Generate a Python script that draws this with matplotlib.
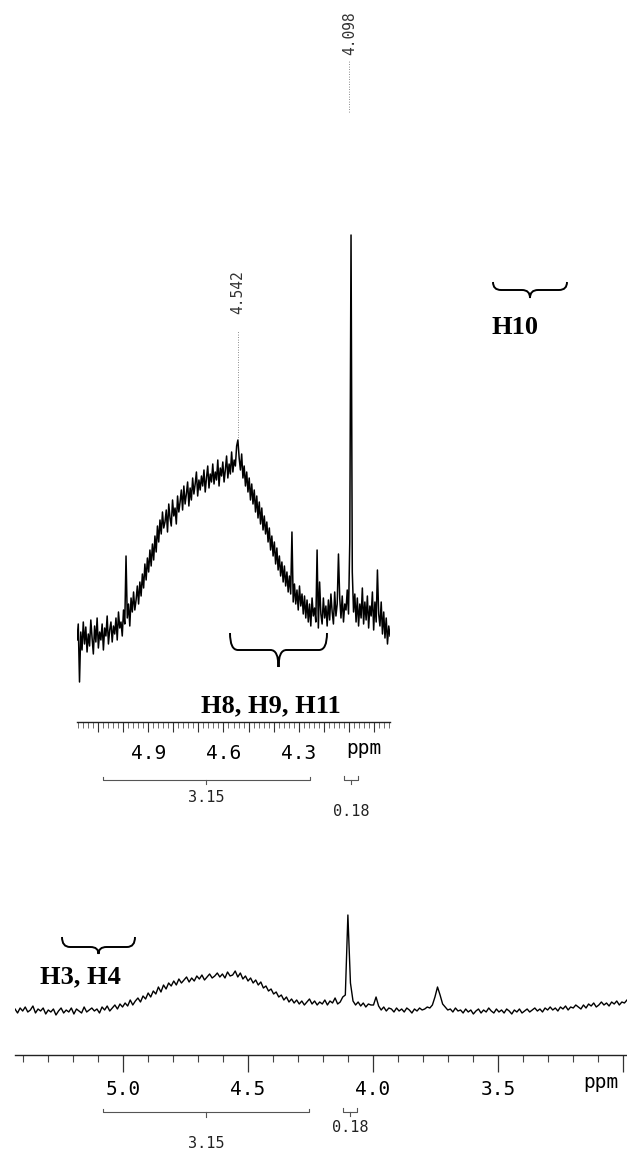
import matplotlib
matplotlib.use('Agg')
import matplotlib.pyplot as plt
import numpy as np
from matplotlib.path import Path
from matplotlib.patches import PathPatch
from matplotlib.ticker import MultipleLocator

# rozmiar obrazka w pikselach
W, H = 627, 1154

# --- dane: widmo rozszerzone (gora) ---
top_ppm_start, top_ppm_end = 5.184, 3.936
top_intensity = [
    82, 98, 40, 90, 72, 100, 78, 95, 70, 88,
    76, 102, 84, 68, 96, 80, 104, 74, 90, 82,
    98, 72, 94, 86, 106, 78, 92, 100, 80, 96,
    88, 104, 82, 110, 94, 100, 86, 112, 98, 166,
    104, 118, 96, 124, 110, 130, 112, 122, 136, 118,
    140, 126, 148, 134, 158, 142, 164, 150, 172, 156,
    178, 162, 186, 170, 196, 180, 202, 188, 210, 194,
    200, 212, 190, 218, 204, 196, 222, 206, 214, 198,
    226, 210, 220, 232, 212, 236, 218, 228, 240, 216,
    234, 222, 244, 228, 238, 250, 226, 242, 232, 246,
    236, 252, 230, 244, 256, 234, 248, 240, 258, 238,
    250, 242, 262, 236, 254, 246, 260, 240, 252, 266,
    244, 258, 248, 270, 250, 262, 256, 276, 282, 264,
    252, 268, 244, 256, 236, 250, 230, 244, 222, 238,
    218, 232, 210, 226, 204, 220, 198, 214, 192, 206,
    188, 200, 180, 194, 172, 186, 166, 180, 158, 174,
    152, 166, 146, 160, 140, 156, 136, 150, 130, 146,
    128, 190, 120, 138, 118, 132, 112, 136, 116, 128,
    108, 126, 104, 122, 100, 118, 96, 124, 106, 114,
    100, 172, 94, 140, 108, 98, 124, 104, 116, 96,
    122, 102, 128, 110, 98, 130, 106, 118, 168, 124,
    104, 126, 100, 118, 112, 132, 108, 180, 487, 150,
    110, 128, 100, 124, 96, 118, 104, 134, 98, 120,
    102, 126, 94, 116, 106, 130, 92, 120, 100, 152,
    108, 96, 120, 88, 110, 84, 104, 78, 96, 86,
]
top_peaks = [4.542, 4.098]
top_tick_labels = [4.9, 4.6, 4.3]

# --- dane: widmo pelne (dol) ---
bottom_ppm_start, bottom_ppm_end = 5.432, 2.984
bottom_intensity = [
    46, 42, 47, 44, 48, 43, 45, 49, 42, 46,
    44, 47, 41, 45, 43, 46, 40, 44, 47, 42,
    45, 43, 47, 41, 46, 44, 42, 48, 43, 45,
    47, 44, 46, 42, 48, 45, 49, 44, 47, 50,
    46, 51, 48, 52, 49, 55, 50, 54, 57, 53,
    59, 56, 62, 58, 64, 61, 68, 63, 70, 66,
    72, 69, 74, 70, 76, 72, 75, 78, 73, 77,
    74, 79, 76, 80, 75, 78, 81, 77, 79, 82,
    78, 81, 77, 83, 79, 80, 84, 78, 82, 76,
    79, 74, 77, 72, 75, 70, 73, 67, 69, 64,
    66, 61, 63, 58, 60, 55, 58, 53, 56, 52,
    55, 51, 54, 50, 53, 56, 51, 54, 50, 53,
    51, 55, 50, 54, 52, 57, 51, 53, 58, 60,
    140, 72, 54, 50, 53, 49, 52, 48, 51, 50,
    50, 58, 49, 45, 48, 44, 47, 46, 43, 47,
    44, 46, 43, 47, 45, 42, 46, 44, 47, 45,
    46, 48, 47, 50, 58, 68, 60, 51, 48, 45,
    46, 43, 47, 44, 45, 42, 46, 43, 45, 41,
    44, 46, 42, 45, 43, 47, 44, 42, 46, 43,
    45, 42, 46, 44, 41, 45, 43, 46, 42, 44,
    46, 43, 45, 47, 44, 46, 43, 47, 45, 48,
    45, 47, 44, 48, 46, 49, 45, 48, 47, 50,
    48, 46, 50, 47, 51, 49, 52, 48, 50, 53,
    50, 52, 49, 53, 51, 54, 50, 53, 52, 55,
]
bottom_tick_labels = [5.0, 4.5, 4.0, 3.5]

# calki
integral_ranges = [(5.08, 4.256), (4.12, 4.064)]
integral_values = ['3.15', '0.18']

MONO = 'DejaVu Sans Mono'
SERIF = 'Liberation Serif'


def px(x, y):
    # piksele obrazka -> wspolrzedne figury
    return x / W, 1 - y / H


def brace(fig, x0, x1, ytop, ymid, ycusp, r=8):
    xc = (x0 + x1) / 2
    pts = [(x0, ytop), (x0, ymid), (x0 + r, ymid), (xc - r, ymid), (xc, ymid), (xc, ycusp),
           (xc, ymid), (xc + r, ymid), (x1 - r, ymid), (x1, ymid), (x1, ytop)]
    codes = [Path.MOVETO, Path.CURVE3, Path.CURVE3, Path.LINETO, Path.CURVE3, Path.CURVE3,
             Path.CURVE3, Path.CURVE3, Path.LINETO, Path.CURVE3, Path.CURVE3]
    patch = PathPatch(Path([px(*p) for p in pts], codes), transform=fig.transFigure,
                      fill=False, lw=1.4, color='black')
    fig.add_artist(patch)


def integral(ax, lo, hi, y, end_h, mid_h, label, label_y):
    ax.plot([lo, lo, hi, hi], [y + end_h, y, y, y + end_h], color='#555', lw=0.8, clip_on=False)
    mid = (lo + hi) / 2
    ax.plot([mid, mid], [y, y - mid_h], color='#555', lw=0.8, clip_on=False)
    ax.text(mid, label_y, label, ha='center', va='center', fontsize=11,
            family=MONO, color='#222', clip_on=False)


def style_axis(ax):
    for s in ['top', 'left', 'right']:
        ax.spines[s].set_visible(False)
    ax.spines['bottom'].set_color('#222')
    ax.spines['bottom'].set_linewidth(1.0)
    ax.yaxis.set_visible(False)
    ax.patch.set_alpha(0)


fig = plt.figure(figsize=(W / 100, H / 100), dpi=100)

# ---------------- gora ----------------
ax1 = fig.add_axes([77 / W, 1 - 722 / H, 313 / W, 722 / H])
top_ppm = np.linspace(top_ppm_start, top_ppm_end, len(top_intensity))
ax1.plot(top_ppm, top_intensity, color='black', lw=1.1)
ax1.set_xlim(top_ppm_start, top_ppm_end)
ax1.set_ylim(0, 722)
style_axis(ax1)

major = np.round(np.arange(4.0, 5.15, 0.1), 2)
ax1.set_xticks(major)
ax1.set_xticklabels([f'{t:.1f}' if np.any(np.isclose(t, top_tick_labels)) else '' for t in major])
ax1.xaxis.set_minor_locator(MultipleLocator(0.02))
ax1.tick_params(which='major', length=7, width=0.8, color='#333', pad=8.5,
                labelsize=14, labelfontfamily=MONO)
ax1.tick_params(which='minor', length=4, width=0.6, color='#555')
ax1.text(4.04, -26, 'ppm', ha='center', va='center', fontsize=14, family=MONO, clip_on=False)

# etykiety pikow
ax1.text(top_peaks[0], 430, f'{top_peaks[0]:.3f}', rotation=90, ha='center', va='center',
         fontsize=10.5, family=MONO, color='#333')
ax1.plot([top_peaks[0]] * 2, [282, 392], color='#666', lw=0.6, ls=(0, (1, 2)))
ax1.text(top_peaks[1], 689, f'{top_peaks[1]:.3f}', rotation=90, ha='center', va='center',
         fontsize=10.5, family=MONO, color='#333')
ax1.plot([top_peaks[1]] * 2, [610, 662], color='#666', lw=0.6, ls=(0, (1, 2)))

integral(ax1, *integral_ranges[0], -58, 3, 4, integral_values[0], -75)
integral(ax1, *integral_ranges[1], -58, 4, 4, integral_values[1], -90)

# ---------------- dol ----------------
ax2 = fig.add_axes([15 / W, 1 - 1055 / H, 612 / W, 175 / H])
bottom_ppm = np.linspace(bottom_ppm_start, bottom_ppm_end, len(bottom_intensity))
ax2.plot(bottom_ppm, bottom_intensity, color='black', lw=1.0)
ax2.set_xlim(bottom_ppm_start, bottom_ppm_end)
ax2.set_ylim(0, 175)
style_axis(ax2)

major2 = np.round(np.arange(3.0, 5.45, 0.5), 2)
ax2.set_xticks(major2)
ax2.set_xticklabels([f'{t:.1f}' if np.any(np.isclose(t, bottom_tick_labels)) else '' for t in major2])
ax2.xaxis.set_minor_locator(MultipleLocator(0.1))
ax2.tick_params(which='major', length=12, width=0.9, color='#333', pad=6,
                labelsize=14, labelfontfamily=MONO)
ax2.tick_params(which='minor', length=5, width=0.8, color='#444')
ax2.text(3.09, -27, 'ppm', ha='center', va='center', fontsize=14, family=MONO, clip_on=False)

integral(ax2, *integral_ranges[0], -57, 3, 5, integral_values[0], -88)
integral(ax2, *integral_ranges[1], -57, 4, 4, integral_values[1], -73)

# ---------------- przypisania ----------------
brace(fig, 493, 567, 282, 290, 298)
fig.text(*px(515, 327), 'H10', ha='center', va='center', fontsize=19,
         family=SERIF, weight='bold')
brace(fig, 230, 327, 633, 650, 667)
fig.text(*px(271, 706), 'H8, H9, H11', ha='center', va='center', fontsize=19,
         family=SERIF, weight='bold')
brace(fig, 62, 135, 937, 947, 954)
fig.text(*px(80, 977), 'H3, H4', ha='center', va='center', fontsize=19,
         family=SERIF, weight='bold')

fig.savefig('out.png', dpi=100)
